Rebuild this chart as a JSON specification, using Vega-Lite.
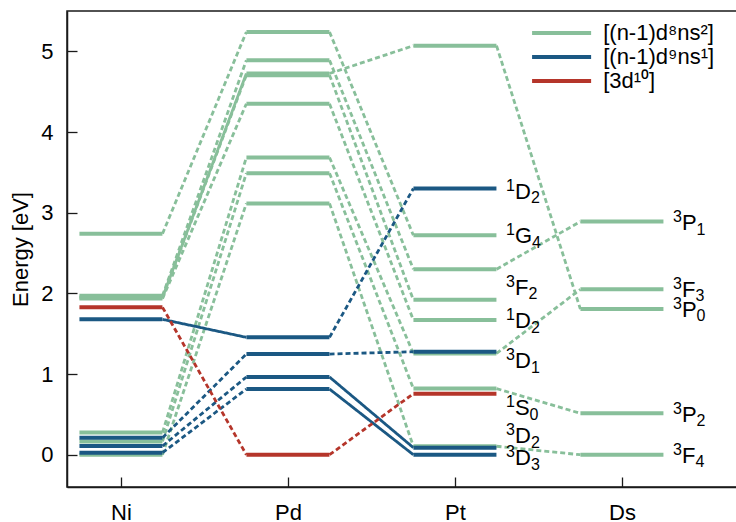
{
  "$schema": "https://vega.github.io/schema/vega-lite/v6.json",
  "width": 670,
  "height": 476,
  "autosize": {"type": "none"},
  "padding": {"left": 67, "top": 11, "right": 0, "bottom": 35},
  "config": {
    "font": "Liberation Sans",
    "view": {"stroke": "#1a1a1a", "strokeWidth": 1.5},
    "axis": {
      "grid": false,
      "domainColor": "#1a1a1a",
      "domainWidth": 1.5,
      "tickColor": "#1a1a1a",
      "tickWidth": 1.3,
      "tickSize": -10,
      "labelFontSize": 22,
      "labelColor": "#000000",
      "titleFontSize": 22,
      "titleFontWeight": "normal",
      "titleColor": "#000000"
    },
    "text": {"font": "Liberation Sans", "color": "#000000"}
  },
  "datasets": {
    "levels": [
      {"el": 1, "e": 0.0, "cfg": "[(n-1)d⁸ns²]"},
      {"el": 1, "e": 0.165, "cfg": "[(n-1)d⁸ns²]"},
      {"el": 1, "e": 0.275, "cfg": "[(n-1)d⁸ns²]"},
      {"el": 1, "e": 1.935, "cfg": "[(n-1)d⁸ns²]"},
      {"el": 1, "e": 1.95, "cfg": "[(n-1)d⁸ns²]"},
      {"el": 1, "e": 1.97, "cfg": "[(n-1)d⁸ns²]"},
      {"el": 1, "e": 2.74, "cfg": "[(n-1)d⁸ns²]"},
      {"el": 2, "e": 3.115, "cfg": "[(n-1)d⁸ns²]"},
      {"el": 2, "e": 3.49, "cfg": "[(n-1)d⁸ns²]"},
      {"el": 2, "e": 3.685, "cfg": "[(n-1)d⁸ns²]"},
      {"el": 2, "e": 4.35, "cfg": "[(n-1)d⁸ns²]"},
      {"el": 2, "e": 4.705, "cfg": "[(n-1)d⁸ns²]"},
      {"el": 2, "e": 4.725, "cfg": "[(n-1)d⁸ns²]"},
      {"el": 2, "e": 4.89, "cfg": "[(n-1)d⁸ns²]"},
      {"el": 2, "e": 5.24, "cfg": "[(n-1)d⁸ns²]"},
      {"el": 3, "e": 0.105, "cfg": "[(n-1)d⁸ns²]"},
      {"el": 3, "e": 0.82, "cfg": "[(n-1)d⁸ns²]"},
      {"el": 3, "e": 1.255, "cfg": "[(n-1)d⁸ns²]"},
      {"el": 3, "e": 1.67, "cfg": "[(n-1)d⁸ns²]"},
      {"el": 3, "e": 1.92, "cfg": "[(n-1)d⁸ns²]"},
      {"el": 3, "e": 2.30, "cfg": "[(n-1)d⁸ns²]"},
      {"el": 3, "e": 2.72, "cfg": "[(n-1)d⁸ns²]"},
      {"el": 3, "e": 5.07, "cfg": "[(n-1)d⁸ns²]"},
      {"el": 4, "e": 0.0, "cfg": "[(n-1)d⁸ns²]"},
      {"el": 4, "e": 0.513, "cfg": "[(n-1)d⁸ns²]"},
      {"el": 4, "e": 1.805, "cfg": "[(n-1)d⁸ns²]"},
      {"el": 4, "e": 2.05, "cfg": "[(n-1)d⁸ns²]"},
      {"el": 4, "e": 2.89, "cfg": "[(n-1)d⁸ns²]"},
      {"el": 1, "e": 0.025, "cfg": "[(n-1)d⁹ns¹]"},
      {"el": 1, "e": 0.108, "cfg": "[(n-1)d⁹ns¹]"},
      {"el": 1, "e": 0.21, "cfg": "[(n-1)d⁹ns¹]"},
      {"el": 1, "e": 1.678, "cfg": "[(n-1)d⁹ns¹]"},
      {"el": 2, "e": 0.814, "cfg": "[(n-1)d⁹ns¹]"},
      {"el": 2, "e": 0.963, "cfg": "[(n-1)d⁹ns¹]"},
      {"el": 2, "e": 1.248, "cfg": "[(n-1)d⁹ns¹]"},
      {"el": 2, "e": 1.455, "cfg": "[(n-1)d⁹ns¹]"},
      {"el": 3, "e": 0.0, "cfg": "[(n-1)d⁹ns¹]"},
      {"el": 3, "e": 0.088, "cfg": "[(n-1)d⁹ns¹]"},
      {"el": 3, "e": 1.277, "cfg": "[(n-1)d⁹ns¹]"},
      {"el": 3, "e": 3.30, "cfg": "[(n-1)d⁹ns¹]"},
      {"el": 1, "e": 1.827, "cfg": "[3d¹⁰]"},
      {"el": 2, "e": 0.0, "cfg": "[3d¹⁰]"},
      {"el": 3, "e": 0.756, "cfg": "[3d¹⁰]"}
    ],
    "links": [
      {"from": 1, "e1": 2.74, "to": 2, "e2": 5.24, "cfg": "[(n-1)d⁸ns²]", "kind": "changed"},
      {"from": 1, "e1": 1.97, "to": 2, "e2": 4.89, "cfg": "[(n-1)d⁸ns²]", "kind": "changed"},
      {"from": 1, "e1": 1.95, "to": 2, "e2": 4.705, "cfg": "[(n-1)d⁸ns²]", "kind": "changed"},
      {"from": 1, "e1": 1.935, "to": 2, "e2": 4.35, "cfg": "[(n-1)d⁸ns²]", "kind": "changed"},
      {"from": 1, "e1": 0.275, "to": 2, "e2": 3.685, "cfg": "[(n-1)d⁸ns²]", "kind": "changed"},
      {"from": 1, "e1": 0.165, "to": 2, "e2": 3.49, "cfg": "[(n-1)d⁸ns²]", "kind": "changed"},
      {"from": 1, "e1": 0.0, "to": 2, "e2": 3.115, "cfg": "[(n-1)d⁸ns²]", "kind": "changed"},
      {"from": 1, "e1": 1.95, "to": 2, "e2": 4.725, "cfg": "[(n-1)d⁸ns²]", "kind": "same"},
      {"from": 2, "e1": 5.24, "to": 3, "e2": 2.72, "cfg": "[(n-1)d⁸ns²]", "kind": "changed"},
      {"from": 2, "e1": 4.89, "to": 3, "e2": 2.30, "cfg": "[(n-1)d⁸ns²]", "kind": "changed"},
      {"from": 2, "e1": 4.725, "to": 3, "e2": 5.07, "cfg": "[(n-1)d⁸ns²]", "kind": "changed"},
      {"from": 2, "e1": 4.705, "to": 3, "e2": 1.92, "cfg": "[(n-1)d⁸ns²]", "kind": "changed"},
      {"from": 2, "e1": 4.35, "to": 3, "e2": 1.67, "cfg": "[(n-1)d⁸ns²]", "kind": "changed"},
      {"from": 2, "e1": 3.685, "to": 3, "e2": 1.255, "cfg": "[(n-1)d⁸ns²]", "kind": "changed"},
      {"from": 2, "e1": 3.49, "to": 3, "e2": 0.82, "cfg": "[(n-1)d⁸ns²]", "kind": "changed"},
      {"from": 2, "e1": 3.115, "to": 3, "e2": 0.105, "cfg": "[(n-1)d⁸ns²]", "kind": "changed"},
      {"from": 3, "e1": 5.07, "to": 4, "e2": 1.805, "cfg": "[(n-1)d⁸ns²]", "kind": "changed"},
      {"from": 3, "e1": 2.30, "to": 4, "e2": 2.89, "cfg": "[(n-1)d⁸ns²]", "kind": "changed"},
      {"from": 3, "e1": 1.255, "to": 4, "e2": 2.05, "cfg": "[(n-1)d⁸ns²]", "kind": "changed"},
      {"from": 3, "e1": 0.82, "to": 4, "e2": 0.513, "cfg": "[(n-1)d⁸ns²]", "kind": "changed"},
      {"from": 3, "e1": 0.105, "to": 4, "e2": 0.0, "cfg": "[(n-1)d⁸ns²]", "kind": "changed"},
      {"from": 1, "e1": 1.678, "to": 2, "e2": 1.455, "cfg": "[(n-1)d⁹ns¹]", "kind": "same"},
      {"from": 1, "e1": 0.21, "to": 2, "e2": 1.248, "cfg": "[(n-1)d⁹ns¹]", "kind": "changed"},
      {"from": 1, "e1": 0.108, "to": 2, "e2": 0.963, "cfg": "[(n-1)d⁹ns¹]", "kind": "changed"},
      {"from": 1, "e1": 0.025, "to": 2, "e2": 0.814, "cfg": "[(n-1)d⁹ns¹]", "kind": "changed"},
      {"from": 2, "e1": 1.455, "to": 3, "e2": 3.30, "cfg": "[(n-1)d⁹ns¹]", "kind": "changed"},
      {"from": 2, "e1": 1.248, "to": 3, "e2": 1.277, "cfg": "[(n-1)d⁹ns¹]", "kind": "changed"},
      {"from": 2, "e1": 0.963, "to": 3, "e2": 0.088, "cfg": "[(n-1)d⁹ns¹]", "kind": "same"},
      {"from": 2, "e1": 0.814, "to": 3, "e2": 0.0, "cfg": "[(n-1)d⁹ns¹]", "kind": "same"},
      {"from": 1, "e1": 1.827, "to": 2, "e2": 0.0, "cfg": "[3d¹⁰]", "kind": "changed"},
      {"from": 2, "e1": 0.0, "to": 3, "e2": 0.756, "cfg": "[3d¹⁰]", "kind": "changed"}
    ],
    "labels": [
      {"el": 3, "e": 3.17, "sup": "1", "main": "D", "sub": "2"},
      {"el": 3, "e": 2.62, "sup": "1", "main": "G", "sub": "4"},
      {"el": 3, "e": 1.98, "sup": "3", "main": "F", "sub": "2"},
      {"el": 3, "e": 1.567, "sup": "1", "main": "D", "sub": "2"},
      {"el": 3, "e": 1.071, "sup": "3", "main": "D", "sub": "1"},
      {"el": 3, "e": 0.492, "sup": "1", "main": "S", "sub": "0"},
      {"el": 3, "e": 0.141, "sup": "3", "main": "D", "sub": "2"},
      {"el": 3, "e": -0.128, "sup": "3", "main": "D", "sub": "3"},
      {"el": 4, "e": 2.785, "sup": "3", "main": "P", "sub": "1"},
      {"el": 4, "e": 1.958, "sup": "3", "main": "F", "sub": "3"},
      {"el": 4, "e": 1.71, "sup": "3", "main": "P", "sub": "0"},
      {"el": 4, "e": 0.41, "sup": "3", "main": "P", "sub": "2"},
      {"el": 4, "e": -0.10, "sup": "3", "main": "F", "sub": "4"}
    ]
  },
  "encoding": {
    "x": {
      "type": "quantitative",
      "scale": {"domain": [0.677, 4.689], "nice": false, "zero": false},
      "axis": {
        "title": null,
        "values": [1, 2, 3, 4],
        "labelExpr": "['', 'Ni', 'Pd', 'Pt', 'Ds'][datum.value]",
        "labelPadding": 25
      }
    },
    "y": {
      "type": "quantitative",
      "scale": {"domain": [-0.4, 5.5], "nice": false, "zero": false},
      "axis": {
        "title": "Energy [eV]",
        "values": [0, 1, 2, 3, 4, 5],
        "labelPadding": 24,
        "titlePadding": 8
      }
    }
  },
  "layer": [
    {
      "data": {"name": "links"},
      "transform": [
        {"calculate": "datum.from + 0.249", "as": "xa"},
        {"calculate": "datum.to - 0.249", "as": "xb"}
      ],
      "mark": {"type": "rule", "strokeWidth": 2.8},
      "encoding": {
        "x": {"field": "xa", "type": "quantitative"},
        "x2": {"field": "xb"},
        "y": {"field": "e1", "type": "quantitative"},
        "y2": {"field": "e2"},
        "color": {
          "field": "cfg",
          "type": "nominal",
          "scale": {
            "domain": ["[(n-1)d⁸ns²]", "[(n-1)d⁹ns¹]", "[3d¹⁰]"],
            "range": ["#88bf9a", "#1b5883", "#b5352a"]
          }
        },
        "strokeDash": {
          "field": "kind",
          "type": "nominal",
          "scale": {"domain": ["same", "changed"], "range": [[1, 0], [5, 3]]},
          "legend": null
        }
      }
    },
    {
      "data": {"name": "levels"},
      "mark": {"type": "tick", "orient": "horizontal", "size": 83, "thickness": 4, "opacity": 1},
      "encoding": {
        "x": {"field": "el", "type": "quantitative"},
        "y": {"field": "e", "type": "quantitative"},
        "color": {
          "field": "cfg",
          "type": "nominal",
          "legend": {
            "orient": "none",
            "legendX": 483.6,
            "legendY": 11,
            "title": null,
            "symbolType": "M-6,0H6",
            "symbolSize": 96.8,
            "symbolStrokeWidth": 4,
            "symbolFillColor": "transparent",
            "labelFontSize": 22,
            "labelColor": "#000000",
            "labelOffset": 30.6,
            "rowPadding": 2,
            "padding": 0
          }
        }
      }
    },
    {
      "data": {"name": "labels"},
      "mark": {"type": "text", "align": "left", "baseline": "alphabetic", "dx": 51, "dy": -8, "fontSize": 16},
      "encoding": {
        "x": {"field": "el", "type": "quantitative"},
        "y": {"field": "e", "type": "quantitative"},
        "text": {"field": "sup"}
      }
    },
    {
      "data": {"name": "labels"},
      "mark": {"type": "text", "align": "left", "baseline": "alphabetic", "dx": 60, "fontSize": 22},
      "encoding": {
        "x": {"field": "el", "type": "quantitative"},
        "y": {"field": "e", "type": "quantitative"},
        "text": {"field": "main"}
      }
    },
    {
      "data": {"name": "labels"},
      "transform": [{"filter": "datum.main == 'D'"}],
      "mark": {"type": "text", "align": "left", "baseline": "alphabetic", "dx": 76, "dy": 4.5, "fontSize": 16},
      "encoding": {
        "x": {"field": "el", "type": "quantitative"},
        "y": {"field": "e", "type": "quantitative"},
        "text": {"field": "sub"}
      }
    },
    {
      "data": {"name": "labels"},
      "transform": [{"filter": "datum.main == 'G'"}],
      "mark": {"type": "text", "align": "left", "baseline": "alphabetic", "dx": 77, "dy": 4.5, "fontSize": 16},
      "encoding": {
        "x": {"field": "el", "type": "quantitative"},
        "y": {"field": "e", "type": "quantitative"},
        "text": {"field": "sub"}
      }
    },
    {
      "data": {"name": "labels"},
      "transform": [{"filter": "datum.main == 'F'"}],
      "mark": {"type": "text", "align": "left", "baseline": "alphabetic", "dx": 73.5, "dy": 4.5, "fontSize": 16},
      "encoding": {
        "x": {"field": "el", "type": "quantitative"},
        "y": {"field": "e", "type": "quantitative"},
        "text": {"field": "sub"}
      }
    },
    {
      "data": {"name": "labels"},
      "transform": [{"filter": "datum.main == 'S' || datum.main == 'P'"}],
      "mark": {"type": "text", "align": "left", "baseline": "alphabetic", "dx": 74.5, "dy": 4.5, "fontSize": 16},
      "encoding": {
        "x": {"field": "el", "type": "quantitative"},
        "y": {"field": "e", "type": "quantitative"},
        "text": {"field": "sub"}
      }
    }
  ]
}
